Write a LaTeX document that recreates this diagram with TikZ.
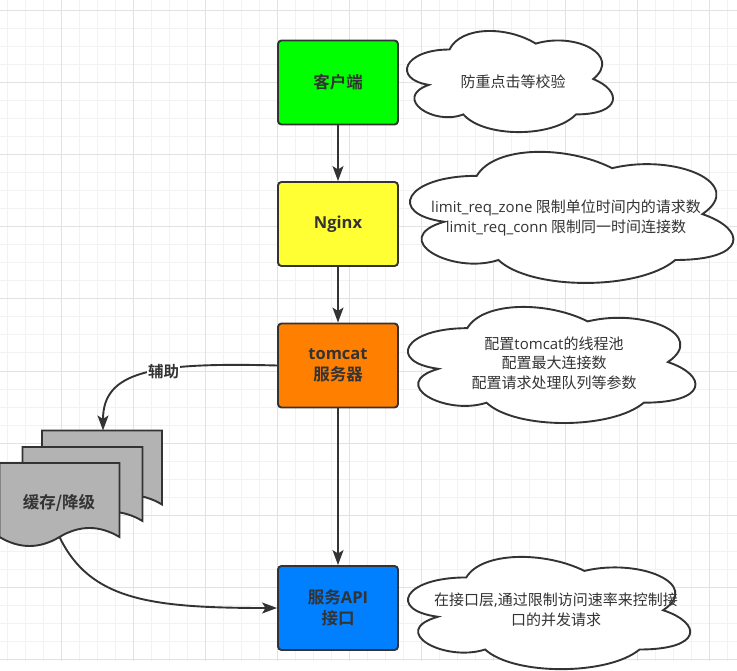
\documentclass[tikz,border=0pt]{standalone}
\usepackage{fontspec}
\setmainfont{Noto Sans CJK SC}[BoldFont={Noto Sans CJK SC Bold}]
\newfontfamily\lat{Open Sans}
\usetikzlibrary{arrows.meta}
\definecolor{edgec}{HTML}{333333}
\definecolor{gminor}{HTML}{F2F2F2}
\definecolor{gmajor}{HTML}{E2E2E2}
\definecolor{cgreen}{HTML}{00FF00}
\definecolor{cyellow}{HTML}{FFFF33}
\definecolor{corange}{HTML}{FF8000}
\definecolor{cblue}{HTML}{007FFF}
\definecolor{cgray}{HTML}{B3B3B3}
\tikzset{
  stagebox/.style={draw=edgec, line width=1.9pt, rounded corners=3.5pt,
    minimum width=120pt, minimum height=84pt, inner sep=0pt, align=center,
    font=\fontsize{16.5}{21}\selectfont\bfseries, text=edgec},
  cloudline/.style={draw=edgec, line width=1.9pt, fill=white},
  cloudtext/.style={align=center, font=\fontsize{15}{19.5}\selectfont, text=edgec, inner sep=0pt},
  flow/.style={draw=edgec, line width=1.9pt, -{Stealth[length=15pt,width=11pt,inset=3.5pt]}},
  sheet/.style={draw=edgec, line width=1.9pt, fill=cgray, line join=miter},
  edgelabel/.style={fill=white, inner sep=1pt, text=edgec, font=\fontsize{15.5}{18}\selectfont\bfseries},
}
% cloud: x0 y0 w h
\newcommand\mycloud[4]{%
  \begin{scope}[shift={(#1,#2)}, x=#3pt, y=-#4pt]
  \path[cloudline] (0.25,0.25) .. controls (0.05,0.25) and (0,0.5) .. (0.16,0.55)
    .. controls (0,0.66) and (0.18,0.9) .. (0.31,0.8)
    .. controls (0.4,1) and (0.7,1) .. (0.8,0.8)
    .. controls (1,0.8) and (1,0.6) .. (0.875,0.5)
    .. controls (1,0.3) and (0.8,0.1) .. (0.625,0.2)
    .. controls (0.5,0.05) and (0.3,0.05) .. (0.25,0.25) -- cycle;
  \end{scope}}
% document sheet: x y (width 120)
\newcommand\mysheet[2]{%
  \begin{scope}[shift={(#1,#2)}]
  \path[sheet] (0,0) -- (120,0) -- (120,74)
    .. controls (100,62) and (80,62) .. (60,74)
    .. controls (40,86) and (20,86) .. (0,74) -- cycle;
  \end{scope}}
\begin{document}
\begin{tikzpicture}[x=1pt, y=-1pt]
\useasboundingbox (0,0) rectangle (737,671);
% grid
\foreach \gx in {7,25,...,727} \draw[gminor, line width=1pt] (\gx,0) -- (\gx,661);
\foreach \gy in {11,29,...,659} \draw[gminor, line width=1pt] (0,\gy) -- (737,\gy);
\foreach \gx in {61,133,...,709} \draw[gmajor, line width=1pt] (\gx,0) -- (\gx,661);
\foreach \gy in {11,83,...,659} \draw[gmajor, line width=1pt] (0,\gy) -- (737,\gy);

% clouds
\mycloud{392}{20}{230}{118}
\mycloud{386.5}{137.6}{361}{153}
\mycloud{387}{294.3}{321}{135.5}
\mycloud{387.5}{544.7}{315}{131}
\node[cloudtext] (n1) at (513,82) {防重点击等校验};
\node[cloudtext] (n2) at (566,218) {{\lat limit\_req\_zone} 限制单位时间内的请求数\\{\lat limit\_req\_conn} 限制同一时间连接数};
\node[cloudtext] (n3) at (554,363) {配置{\lat tomcat}的线程池\\配置最大连接数\\配置请求处理队列等参数};
\node[cloudtext] (n4) at (556,610) {在接口层{\lat ,}通过限制访问速率来控制接\\口的并发请求};

% stage boxes
\node[stagebox, fill=cgreen] (client) at (338,82.5) {客户端};
\node[stagebox, fill=cyellow] (nginx) at (338,224) {{\lat Nginx}};
\node[stagebox, fill=corange] (tomcat) at (338,365.5) {{\lat tomcat}\\服务器};
\node[stagebox, fill=cblue] (api) at (338,608) {服务{\lat API}\\接口};

% document stack
\mysheet{42}{430.5}
\mysheet{22.5}{447}
\mysheet{-0.5}{463}
\node[text=edgec, font=\fontsize{16.5}{20}\selectfont\bfseries] (cache) at (59,503) {缓存/降级};
\coordinate (docTop) at (103,430.5);
\coordinate (docBot) at (59.5,537);

% connectors
\draw[flow] (client) -- (nginx);
\draw[flow] (nginx) -- (tomcat);
\draw[flow] (tomcat) -- (api);
\draw[flow] (tomcat.west) .. controls (150,362) and (103,372) .. (docTop);
\node[edgelabel] (aux) at (163.5,372) {辅助};
\draw[flow] (docBot) .. controls (90,600) and (150,608) .. (api.west);
\end{tikzpicture}
\end{document}
